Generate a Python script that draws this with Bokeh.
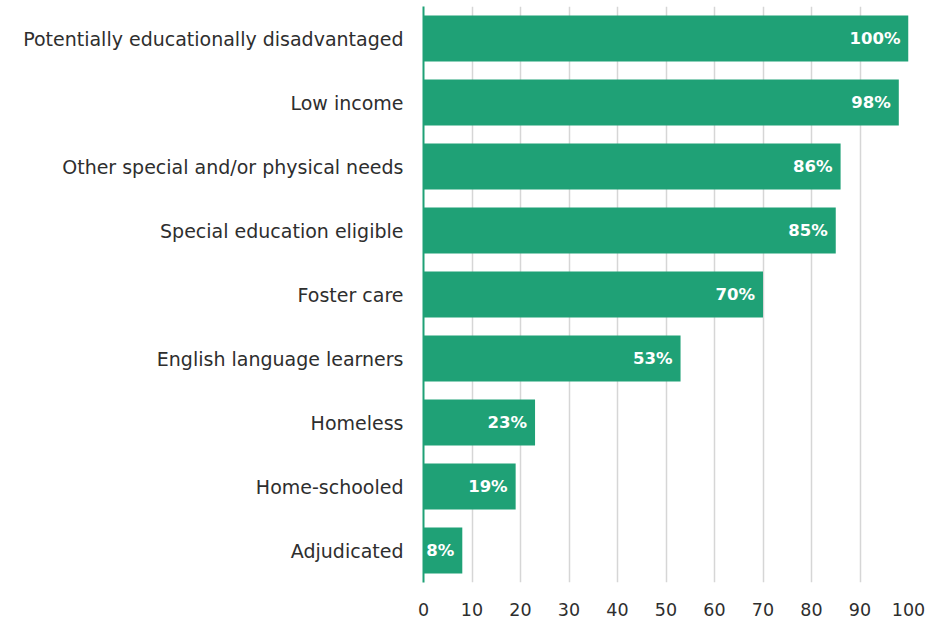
from bokeh.plotting import figure
from bokeh.models import ColumnDataSource, FixedTicker
from bokeh.core.properties import value
from bokeh.embed import file_html
from bokeh.resources import INLINE

categories = [
    "Potentially educationally disadvantaged",
    "Low income",
    "Other special and/or physical needs",
    "Special education eligible",
    "Foster care",
    "English language learners",
    "Homeless",
    "Home-schooled",
    "Adjudicated",
]
values = [100, 98, 86, 85, 70, 53, 23, 19, 8]
x_ticks = [0, 10, 20, 30, 40, 50, 60, 70, 80, 90, 100]

GREEN = "#1fa176"
TEXT = "#2e2e2e"
FONT = "DejaVu Sans"

cats_bottom_up = list(reversed(categories))
src = ColumnDataSource(dict(
    cat=categories,
    val=values,
    lab=[f"{v}%" for v in values],
))

p = figure(
    y_range=cats_bottom_up, x_range=(0, 100),
    width=935, height=620,
    output_backend="svg", toolbar_location=None,
    min_border_left=423, min_border_right=27,
    min_border_top=6, min_border_bottom=38,
)
p.outline_line_color = None
p.background_fill_color = "white"
p.border_fill_color = "white"

p.hbar(y="cat", right="val", left=0, height=0.72, source=src,
       fill_color=GREEN, line_color=None)
p.text(x="val", y="cat", text="lab", source=src, x_offset=-8,
       text_align="right", text_baseline="middle",
       text_color="white", text_font=value(FONT), text_font_style="bold",
       text_font_size="16.5px")

p.xgrid.ticker = FixedTicker(ticks=x_ticks)
p.xgrid.grid_line_color = "#d6d6d6"
p.xgrid.grid_line_width = 1.5
p.ygrid.grid_line_color = None

p.xaxis.ticker = FixedTicker(ticks=x_ticks)
p.xaxis.axis_line_color = None
p.xaxis.major_tick_line_color = None
p.xaxis.minor_tick_line_color = None
p.xaxis.major_label_text_font = FONT
p.xaxis.major_label_text_font_size = "17.5px"
p.xaxis.major_label_text_color = TEXT
p.xaxis.major_label_standoff = 14

p.yaxis.axis_line_color = GREEN
p.yaxis.axis_line_width = 2
p.yaxis.major_tick_line_color = None
p.yaxis.minor_tick_line_color = None
p.yaxis.major_label_text_font = FONT
p.yaxis.major_label_text_font_size = "19px"
p.yaxis.major_label_text_color = TEXT
p.yaxis.major_label_standoff = 14

open("out.html", "w").write(file_html(p, INLINE))
